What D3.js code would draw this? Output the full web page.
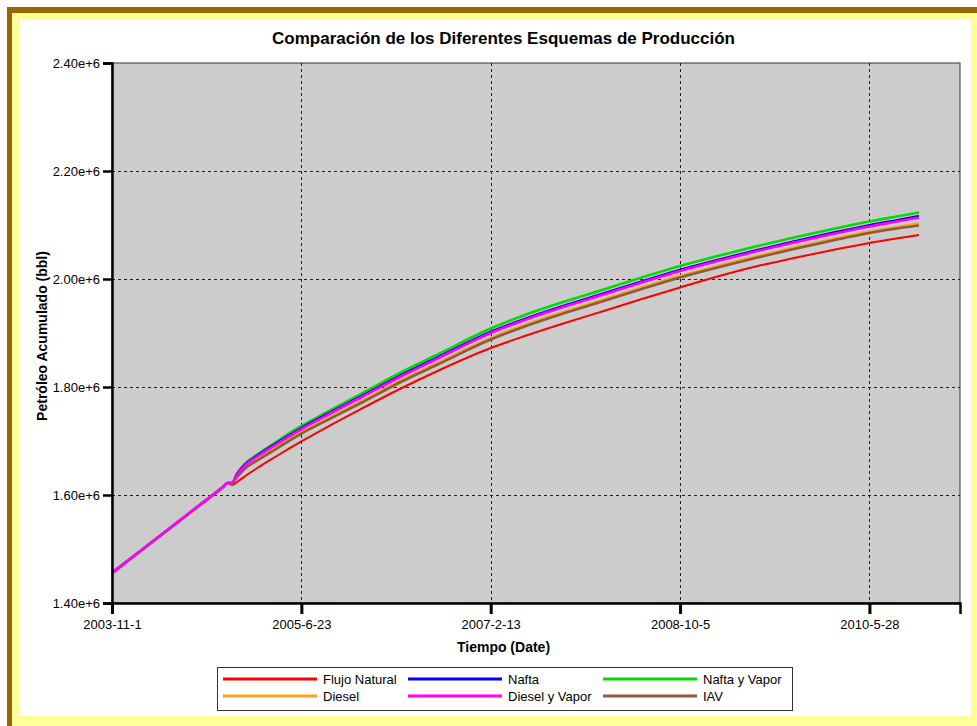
<!DOCTYPE html>
<html>
<head>
<meta charset="utf-8">
<script src="https://cdn.jsdelivr.net/npm/d3@7"></script>
<style>
  html, body { margin: 0; padding: 0; background: #fff; }
  svg { display: block; }
  text { font-family: "Liberation Sans", Arial, sans-serif; }
</style>
</head>
<body>
<div id="chart"></div>
<script>
// ---------- data ----------
const dates = ["2003-11-1","2004-2-1","2004-5-1","2004-8-1","2004-10-20","2004-11-1","2004-11-15",
  "2004-12-1","2005-1-1","2005-2-1","2005-4-1","2005-6-23","2005-9-1","2006-1-1","2006-5-1","2006-9-1",
  "2007-2-13","2007-6-1","2007-10-1","2008-2-1","2008-6-1","2008-10-5","2009-2-1","2009-6-1","2009-10-1",
  "2010-2-1","2010-5-28","2010-9-1","2010-11-1"];

const flujoNatural = [1455600,1497200,1538000,1579600,1616100,1622200,1618500,
  1624100,1637000,1649100,1670400,1699100,1722200,1760200,1796300,1830600,
  1872200,1894400,1917600,1939800,1962000,1984300,2004600,2023100,2038900,
  2053700,2066700,2075900,2081500];
const nafta = [1455600,1497200,1538000,1579600,1616100,1622200,1622000,
  1638500,1659000,1672000,1694400,1724000,1746300,1783400,1820400,1855600,
  1901900,1926000,1950000,1972300,1994500,2016700,2035200,2052800,2069500,
  2085400,2099500,2109900,2116600];
const naftaVapor = [1455600,1497200,1538000,1579600,1616100,1622200,1622000,
  1638900,1661100,1674100,1697200,1727800,1750000,1788000,1825900,1861100,
  1908300,1933400,1957400,1979700,2001900,2024100,2042600,2060200,2076900,
  2092600,2106500,2116700,2123200];
const diesel = [1455600,1497200,1538000,1579600,1616100,1622200,1622000,
  1635100,1653700,1665800,1687000,1716600,1737900,1774100,1811100,1845400,
  1890700,1914800,1938800,1961100,1983300,2005500,2024000,2041600,2058300,
  2074000,2087900,2097200,2102800];
const dieselVapor = [1455600,1497200,1538000,1579600,1616100,1622200,1622000,
  1637000,1657400,1670400,1692600,1722200,1744400,1781500,1818500,1853700,
  1900000,1924100,1948100,1970400,1992600,2014800,2033300,2050900,2067600,
  2083300,2097200,2107400,2113900];
const iav = [1455600,1497200,1538000,1579600,1616100,1622200,1622000,
  1633200,1651800,1663000,1684200,1713800,1735100,1771300,1808300,1842600,
  1887900,1912000,1936000,1958300,1980500,2002700,2021200,2038800,2055500,
  2071200,2085100,2094400,2099100];

const seriesNames = ["Flujo Natural","Nafta","Nafta y Vapor","Diesel","Diesel y Vapor","IAV"];
const seriesColors = ["#ff0000","#0000ff","#00dd00","#ffa020","#ff00ff","#8c5a3c"];
const seriesValues = [flujoNatural, nafta, naftaVapor, diesel, dieselVapor, iav];
const drawOrder = [0, 2, 1, 3, 5, 4];

const xTickLabels = ["2003-11-1","2005-6-23","2007-2-13","2008-10-5","2010-5-28"];
const xDomain = ["2003-11-1","2011-3-11"];
const yTicks = [1400000,1600000,1800000,2000000,2200000,2400000];
const yDomain = [1400000, 2400000];

const title = "Comparación de los Diferentes Esquemas de Producción";
const xTitle = "Tiempo (Date)";
const yTitle = "Petróleo Acumulado (bbl)";

// ---------- layout ----------
const W = 977, H = 726;
const plot = {left: 112, top: 63, right: 960, bottom: 603};
const parse = d3.utcParse("%Y-%m-%d");

const svg = d3.select("#chart").append("svg").attr("width", W).attr("height", H);

// frame
svg.append("rect").attr("x",0).attr("y",0).attr("width",W).attr("height",H).attr("fill","#ffffff");
svg.append("rect").attr("x",7).attr("y",7).attr("width",W-7).attr("height",H-7).attr("fill","#996600");
svg.append("rect").attr("x",12).attr("y",13).attr("width",W-12).attr("height",H-13).attr("fill","#ffff99");
svg.append("rect").attr("x",19).attr("y",19).attr("width",952).attr("height",697).attr("fill","#ffffff");

const x = d3.scaleUtc().domain(xDomain.map(parse)).range([plot.left, plot.right]);
const y = d3.scaleLinear().domain(yDomain).range([plot.bottom, plot.top]);

// plot background
svg.append("rect").attr("x",plot.left).attr("y",plot.top)
  .attr("width",plot.right-plot.left).attr("height",plot.bottom-plot.top)
  .attr("fill","#cccccc").attr("stroke","#333").attr("stroke-width",1);

// grid
const grid = svg.append("g").attr("stroke","#222").attr("stroke-width",1).attr("stroke-dasharray","3,3");
xTickLabels.slice(1).forEach(t => {
  const xx = Math.round(x(parse(t))) + 0.5;
  grid.append("line").attr("x1",xx).attr("x2",xx).attr("y1",plot.top).attr("y2",plot.bottom);
});
yTicks.slice(1, -1).forEach(v => {
  const yy = Math.round(y(v)) + 0.5;
  grid.append("line").attr("x1",plot.left).attr("x2",plot.right).attr("y1",yy).attr("y2",yy);
});

// series
const line = d3.line()
  .x((d,i) => x(parse(dates[i])))
  .y(d => y(d))
  .curve(d3.curveMonotoneX);
const gLines = svg.append("g");
drawOrder.forEach(k => {
  gLines.append("path").datum(seriesValues[k])
    .attr("d", line)
    .attr("fill","none")
    .attr("stroke", seriesColors[k])
    .attr("stroke-width", k === 0 ? 2 : 2.6)
    .attr("stroke-linejoin","round");
});

// axes
const xAxis = d3.axisBottom(x)
  .tickValues(xTickLabels.map(parse))
  .tickFormat((d,i) => xTickLabels[i])
  .tickSize(11).tickPadding(6);
const gx = svg.append("g").attr("transform", `translate(0,${plot.bottom})`).call(xAxis);
gx.select(".domain").attr("stroke","#000").attr("stroke-width",2.5);
gx.selectAll(".tick line").attr("stroke","#000").attr("stroke-width",3);
gx.selectAll(".tick text").attr("font-size","13px").attr("fill","#000")
  .attr("font-family","'Liberation Sans', Arial, sans-serif");

const yAxis = d3.axisLeft(y)
  .tickValues(yTicks)
  .tickFormat(d3.format(".2e"))
  .tickSize(9).tickPadding(3);
const gy = svg.append("g").attr("transform", `translate(${plot.left},0)`).call(yAxis);
gy.select(".domain").attr("stroke","#000").attr("stroke-width",2.5);
gy.selectAll(".tick line").attr("stroke","#000").attr("stroke-width",2.5);
gy.selectAll(".tick text").attr("font-size","13px").attr("fill","#000")
  .attr("font-family","'Liberation Sans', Arial, sans-serif");

// titles
svg.append("text").attr("x",503.5).attr("y",44).attr("text-anchor","middle")
  .attr("font-size","17px").attr("font-weight","bold").text(title);
svg.append("text").attr("x",503.5).attr("y",652).attr("text-anchor","middle")
  .attr("font-size","14px").attr("font-weight","bold").text(xTitle);
svg.append("text").attr("transform","translate(47,336) rotate(-90)").attr("text-anchor","middle")
  .attr("font-size","14px").attr("font-weight","bold").text(yTitle);

// legend
const lg = svg.append("g");
lg.append("rect").attr("x",217.5).attr("y",667.5).attr("width",575).attr("height",43)
  .attr("fill","#fff").attr("stroke","#333").attr("stroke-width",1);
const colX = [223, 408, 603];
const rowY = [679, 696];
seriesNames.forEach((name, i) => {
  const c = i % 3, r = Math.floor(i / 3);
  lg.append("line").attr("x1",colX[c]).attr("x2",colX[c]+94)
    .attr("y1",rowY[r]).attr("y2",rowY[r])
    .attr("stroke",seriesColors[i]).attr("stroke-width",3);
  lg.append("text").attr("x",colX[c]+100).attr("y",rowY[r]+4.5)
    .attr("font-size","13px").text(name);
});
</script>
</body>
</html>
